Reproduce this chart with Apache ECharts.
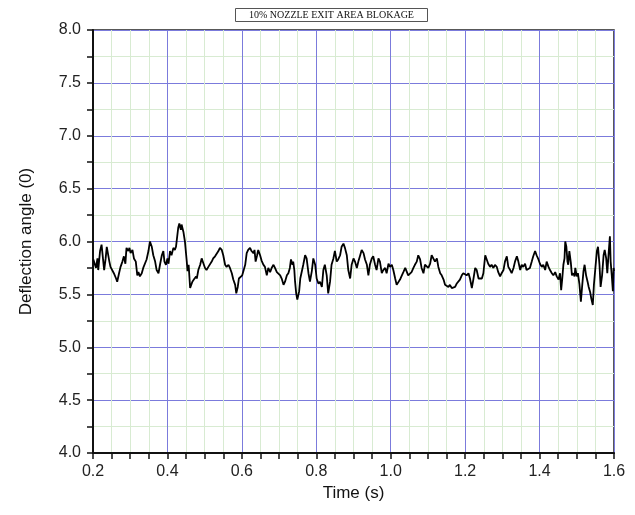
<!DOCTYPE html>
<html>
<head>
<meta charset="utf-8">
<script src="https://cdn.jsdelivr.net/npm/echarts@6/dist/echarts.min.js"></script>
<style>
  html, body { margin: 0; padding: 0; background: #fff; }
  #chart { width: 635px; height: 515px; }
</style>
</head>
<body>
<div id="chart"></div>
<script>
// time (s)
const times = [
  0.201, 0.208, 0.212, 0.214, 0.219, 0.223, 0.226, 0.230, 0.234, 0.237, 0.241, 0.244, 0.247, 0.252, 0.256, 0.262, 0.265, 0.270, 0.274, 0.279,
  0.283, 0.287, 0.290, 0.295, 0.298, 0.301, 0.306, 0.310, 0.315, 0.319, 0.322, 0.326, 0.331, 0.335, 0.340, 0.344, 0.349, 0.353, 0.358, 0.362,
  0.367, 0.371, 0.376, 0.380, 0.385, 0.389, 0.392, 0.396, 0.400, 0.403, 0.407, 0.411, 0.416, 0.420, 0.423, 0.427, 0.429, 0.432, 0.436, 0.438,
  0.443, 0.447, 0.452, 0.454, 0.457, 0.461, 0.463, 0.467, 0.471, 0.477,
  0.479, 0.483, 0.488, 0.492, 0.497, 0.501, 0.505, 0.510, 0.514, 0.519, 0.523, 0.528, 0.532, 0.537, 0.541, 0.546, 0.550, 0.555, 0.559, 0.564,
  0.568, 0.573, 0.577, 0.582, 0.585, 0.589, 0.592, 0.597, 0.601, 0.606, 0.609, 0.613, 0.617, 0.622, 0.626, 0.631, 0.634, 0.637, 0.641, 0.644,
  0.649, 0.653, 0.658, 0.662, 0.667, 0.671, 0.676, 0.680, 0.685, 0.689, 0.694, 0.698, 0.703, 0.707, 0.712, 0.716, 0.721, 0.725, 0.729, 0.732,
  0.736, 0.738, 0.741, 0.743, 0.746, 0.749, 0.754, 0.757,
  0.761, 0.765, 0.770, 0.774, 0.779, 0.783, 0.788, 0.792, 0.797, 0.801, 0.806, 0.810, 0.815, 0.819, 0.823, 0.828, 0.832, 0.837, 0.841, 0.846,
  0.850, 0.855, 0.859, 0.864, 0.868, 0.873, 0.877, 0.882, 0.886, 0.891, 0.895, 0.900, 0.904, 0.909, 0.913, 0.918, 0.922, 0.927, 0.931, 0.936,
  0.940, 0.944, 0.949, 0.953, 0.958, 0.962, 0.967, 0.971, 0.976, 0.980, 0.985, 0.989, 0.994, 0.998, 1.003, 1.007, 1.012, 1.016, 1.021, 1.025,
  1.030, 1.034, 1.039,
  1.043, 1.047, 1.052, 1.056, 1.061, 1.065, 1.070, 1.074, 1.079, 1.083, 1.088, 1.092, 1.097, 1.101, 1.106, 1.110, 1.115, 1.119, 1.124, 1.128,
  1.133, 1.137, 1.142, 1.146, 1.150, 1.155, 1.159, 1.164, 1.168, 1.173, 1.177, 1.182, 1.186, 1.191, 1.195, 1.200, 1.204, 1.209, 1.213, 1.218,
  1.222, 1.227, 1.231, 1.236, 1.240, 1.245, 1.249, 1.254, 1.258, 1.262, 1.267, 1.271, 1.276, 1.280, 1.285, 1.289, 1.294, 1.298, 1.303, 1.307,
  1.312, 1.316, 1.321,
  1.325, 1.330, 1.334, 1.339, 1.343, 1.348, 1.352, 1.356, 1.361, 1.365, 1.370, 1.374, 1.379, 1.383, 1.388, 1.392, 1.397, 1.401, 1.406, 1.410,
  1.415, 1.419, 1.424, 1.428, 1.433, 1.437, 1.442, 1.446, 1.451, 1.455, 1.458, 1.461, 1.464, 1.467, 1.469, 1.472, 1.475, 1.477, 1.480, 1.484,
  1.487, 1.491, 1.494, 1.496, 1.500, 1.503, 1.507, 1.511, 1.514, 1.518, 1.521, 1.525, 1.529, 1.532, 1.536, 1.539, 1.543, 1.546, 1.550, 1.554,
  1.557, 1.561, 1.564, 1.568, 1.572, 1.575, 1.579, 1.582, 1.586, 1.589, 1.591, 1.594, 1.597, 1.599, 1.600
];

// deflection angle, one per time
const angles = [
  5.83, 5.75, 5.84, 5.73, 5.91, 5.97, 5.98, 5.73, 5.84, 5.95, 5.95, 5.81, 5.76, 5.76, 5.70, 5.65, 5.62, 5.70, 5.76, 5.81,
  5.86, 5.79, 5.94, 5.91, 5.94, 5.89, 5.92, 5.84, 5.81, 5.68, 5.71, 5.67, 5.70, 5.75, 5.75, 5.83, 5.91, 6.00, 5.95, 5.87,
  5.81, 5.73, 5.70, 5.78, 5.87, 5.91, 5.81, 5.78, 5.84, 5.79, 5.91, 5.87, 5.94, 5.92, 5.95, 5.94, 6.13, 6.17, 6.11, 6.16,
  6.09, 6.00, 5.81, 5.72, 5.78, 5.56, 5.57, 5.62, 5.64, 5.67,
  5.65, 5.73, 5.78, 5.84, 5.79, 5.75, 5.73, 5.76, 5.75, 5.81, 5.84, 5.86, 5.87, 5.91, 5.94, 5.92, 5.87, 5.78, 5.76, 5.78,
  5.75, 5.70, 5.64, 5.59, 5.51, 5.57, 5.65, 5.64, 5.68, 5.67, 5.78, 5.89, 5.92, 5.94, 5.91, 5.89, 5.92, 5.81, 5.87, 5.92,
  5.87, 5.82, 5.78, 5.76, 5.68, 5.75, 5.71, 5.75, 5.78, 5.75, 5.71, 5.70, 5.68, 5.65, 5.59, 5.62, 5.68, 5.70, 5.75, 5.83,
  5.78, 5.81, 5.73, 5.62, 5.51, 5.45, 5.53, 5.65,
  5.65, 5.78, 5.87, 5.84, 5.70, 5.62, 5.72, 5.84, 5.78, 5.65, 5.60, 5.62, 5.57, 5.73, 5.78, 5.68, 5.51, 5.62, 5.78, 5.84,
  5.91, 5.81, 5.83, 5.87, 5.95, 5.98, 5.94, 5.87, 5.73, 5.65, 5.78, 5.84, 5.81, 5.75, 5.81, 5.87, 5.92, 5.89, 5.83, 5.78,
  5.68, 5.78, 5.84, 5.86, 5.78, 5.73, 5.84, 5.81, 5.70, 5.73, 5.75, 5.70, 5.79, 5.76, 5.78, 5.73, 5.65, 5.59, 5.60, 5.64,
  5.68, 5.71, 5.75,
  5.75, 5.68, 5.67, 5.71, 5.75, 5.78, 5.81, 5.87, 5.83, 5.75, 5.70, 5.78, 5.79, 5.75, 5.79, 5.87, 5.86, 5.81, 5.84, 5.76,
  5.70, 5.68, 5.64, 5.59, 5.60, 5.57, 5.59, 5.56, 5.57, 5.57, 5.60, 5.59, 5.64, 5.68, 5.70, 5.71, 5.68, 5.70, 5.65, 5.56,
  5.64, 5.75, 5.73, 5.65, 5.64, 5.65, 5.70, 5.87, 5.86, 5.79, 5.76, 5.78, 5.75, 5.78, 5.76, 5.71, 5.67, 5.70, 5.73, 5.81,
  5.86, 5.76, 5.73,
  5.70, 5.75, 5.81, 5.86, 5.81, 5.73, 5.78, 5.76, 5.79, 5.73, 5.72, 5.75, 5.81, 5.86, 5.91, 5.87, 5.83, 5.79, 5.76, 5.78,
  5.73, 5.81, 5.76, 5.73, 5.70, 5.68, 5.71, 5.67, 5.64, 5.70, 5.54, 5.65, 5.78, 5.84, 6.00, 5.95, 5.81, 5.78, 5.91, 5.80,
  5.68, 5.70, 5.67, 5.75, 5.67, 5.70, 5.60, 5.43, 5.56, 5.72, 5.78, 5.68, 5.62, 5.57, 5.52, 5.46, 5.40, 5.59, 5.75, 5.91,
  5.95, 5.78, 5.57, 5.68, 5.87, 5.92, 5.84, 5.70, 5.91, 6.05, 5.81, 5.68, 5.53, 5.75, 5.72
];

const titleText = '10% NOZZLE EXIT AREA BLOKAGE';
const xName = 'Time (s)';
const yName = 'Deflection angle (0)';

const chart = echarts.init(document.getElementById('chart'), null, { renderer: 'canvas' });

const labelStyle = {
  color: '#222',
  fontSize: 16,
  fontFamily: 'Liberation Sans, Arial, sans-serif'
};
const majorColor = '#7b7bdc';
const minorColor = '#d8ebd2';

chart.setOption({
  animation: false,
  backgroundColor: '#fff',
  title: {
    text: titleText,
    left: 235,
    top: 8,
    padding: [2, 14, 2, 14],
    borderColor: '#555',
    borderWidth: 1,
    textStyle: {
      fontFamily: 'Liberation Serif, Times New Roman, serif',
      fontWeight: 'normal',
      fontSize: 10,
      color: '#111'
    }
  },
  grid: {
    left: 93,
    right: 21,
    top: 30,
    bottom: 62,
    show: true,
    borderColor: '#222',
    borderWidth: 1.5,
    backgroundColor: 'transparent'
  },
  xAxis: {
    type: 'value',
    min: 0.2,
    max: 1.6,
    interval: 0.05,
    name: xName,
    nameLocation: 'middle',
    nameGap: 30,
    nameTextStyle: { color: '#111', fontSize: 17, fontFamily: 'Liberation Sans, Arial, sans-serif' },
    axisLine: { show: true, onZero: false, lineStyle: { color: '#111', width: 2 } },
    axisTick: { show: true, length: 6, lineStyle: { color: '#111', width: 1.5 } },
    axisLabel: Object.assign({
      margin: 11,
      formatter: v => (Math.round(v * 100) % 20 === 0 ? v.toFixed(1) : '')
    }, labelStyle),
    splitLine: { show: true, lineStyle: { color: [majorColor, minorColor, minorColor, minorColor], width: 1 } }
  },
  yAxis: {
    type: 'value',
    min: 4,
    max: 8,
    interval: 0.25,
    name: yName,
    nameLocation: 'middle',
    nameGap: 58,
    nameTextStyle: { color: '#111', fontSize: 17, fontFamily: 'Liberation Sans, Arial, sans-serif' },
    axisLine: { show: true, onZero: false, lineStyle: { color: '#111', width: 2 } },
    axisTick: { show: true, length: 6, lineStyle: { color: '#111', width: 1.5 } },
    axisLabel: Object.assign({
      margin: 12,
      formatter: v => (Math.round(v * 100) % 50 === 0 ? v.toFixed(1) : '')
    }, labelStyle),
    splitLine: { show: true, lineStyle: { color: [majorColor, minorColor], width: 1 } }
  },
  series: [
    {
      type: 'line',
      data: times.map((t, i) => [t, angles[i]]),
      showSymbol: false,
      symbol: 'none',
      lineStyle: { color: '#000', width: 1.8 },
      z: 5
    }
  ]
});
</script>
</body>
</html>
